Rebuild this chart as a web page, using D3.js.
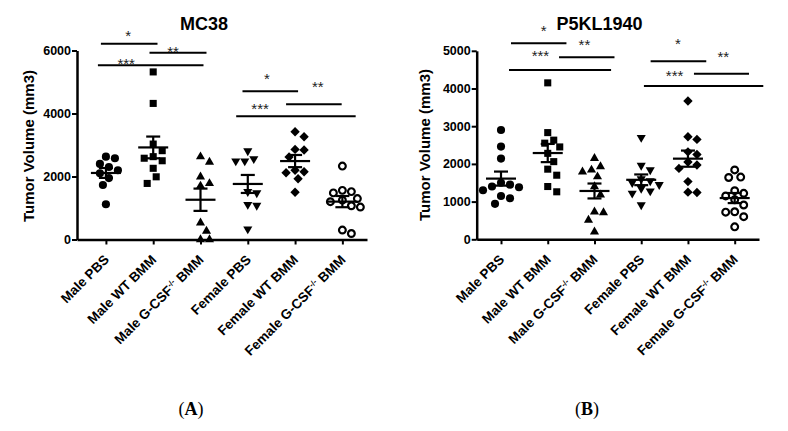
<!DOCTYPE html>
<html>
<head>
<meta charset="utf-8">
<script src="https://cdn.jsdelivr.net/npm/d3@7"></script>
<style>
  html, body { margin: 0; padding: 0; background: #fff; }
  svg { display: block; }
</style>
</head>
<body>
<svg id="chart" width="788" height="431"></svg>
<script>
// ---------------- DATA ----------------
const categories = ["Male PBS", "Male WT BMM", "Male G-CSF-/- BMM", "Female PBS", "Female WT BMM", "Female G-CSF-/- BMM"];

// Panel A: MC38 tumor volume (mm3)
const mc38MalePBS      = [2630, 2580, 2400, 2300, 2200, 2100, 1950, 1730, 1120];
const mc38MaleWT       = [5320, 4320, 3030, 2820, 2630, 2580, 2500, 2260, 1990, 1780];
const mc38MaleGCSF     = [2630, 2460, 1990, 1780, 1700, 530, 270, 0, 0];
const mc38FemalePBS    = [2810, 2560, 2490, 2490, 1520, 1480, 1110, 1080, 330];
const mc38FemaleWT     = [3420, 3260, 2860, 2840, 2620, 2200, 2150, 2120, 1930, 1500];
const mc38FemaleGCSF   = [2330, 1560, 1520, 1480, 1300, 1250, 1200, 1070, 1030, 300, 190];

// Panel B: P5KL1940 tumor volume (mm3)
const p5MalePBS        = [2900, 2460, 2140, 1500, 1450, 1400, 1380, 1300, 1150, 1090, 940];
const p5MaleWT         = [4150, 2830, 2630, 2550, 2450, 2280, 2060, 1860, 1700, 1400, 1260];
const p5MaleGCSF       = [2150, 1930, 1840, 1790, 1660, 1400, 1180, 730, 710, 510, 200];
const p5FemalePBS      = [2700, 1960, 1840, 1600, 1550, 1500, 1450, 1350, 1280, 1220, 910];
const p5FemaleWT       = [3670, 2720, 2650, 2320, 2250, 2050, 1970, 1880, 1530, 1250, 1240];
const p5FemaleGCSF     = [1840, 1650, 1640, 1290, 1220, 1150, 1050, 910, 730, 720, 600, 330];

const mc38Ticks = [0, 2000, 4000, 6000];
const p5Ticks   = [0, 1000, 2000, 3000, 4000, 5000];

// significance comparisons: [from group, to group, bracket height (mm3), label]
const mc38Sig = [
  [0, 1, 6216, "*"], [1, 2, 5930, "**"], [0, 2, 5530, "***"],
  [3, 4, 4705, "*"], [4, 5, 4292, "**"], [3, 5, 3911, "***"]
];
const p5Sig = [
  [0, 1, 5199, "*"], [1, 2, 4828, "**"], [0, 2, 4491, "***"],
  [3, 4, 4721, "*"], [4, 5, 4393, "**"], [3, 5, 4066, "***"]
];

// ---------------- LAYOUT ----------------
const shapes = ["circle", "square", "triUp", "triDown", "diamond", "openCircle"];
// bracket end overhangs (px) and label offsets from bracket mid (px)
const mc38SigLayout = [
  {l: -5, r: 4.3, dx: -1, dy: -10.7}, {l: -3.7, r: 6, dx: -5, dy: -3.7}, {l: -8, r: 3, dx: -24.5, dy: -4.3},
  {l: -5.3, r: 3, dx: -3.3, dy: -15.3}, {l: -9, r: -0.7, dx: 4, dy: -20.3}, {l: -11.6, r: 13.3, dx: -35.8, dy: -10.3}
];
const p5SigLayout = [
  {l: 10, r: 18.7, dx: 5, dy: -15.3}, {l: 11.3, r: 20, dx: -2.3, dy: -15.6}, {l: 8, r: 16.6, dx: -19.6, dy: -17.3},
  {l: 9.4, r: 18.3, dx: -0.5, dy: -20.6}, {l: 6, r: 14.3, dx: 1.8, dy: -19.7}, {l: 2.7, r: 28.6, dx: -29, dy: -13.3}
];

const panels = [
  {
    title: "MC38", letter: "A",
    groups: [mc38MalePBS, mc38MaleWT, mc38MaleGCSF, mc38FemalePBS, mc38FemaleWT, mc38FemaleGCSF],
    ticks: mc38Ticks, ymax: 6000, sig: mc38Sig, sigLayout: mc38SigLayout,
    xRange: [77, 367], xPad: 0.566, xAlign: 0.54, yRange: [239.5, 50.5],
    titleX: 204, ylabX: 29, ylabY: 146, letterX: 191
  },
  {
    title: "P5KL1940", letter: "B",
    groups: [p5MalePBS, p5MaleWT, p5MaleGCSF, p5FemalePBS, p5FemaleWT, p5FemaleGCSF],
    ticks: p5Ticks, ymax: 5000, sig: p5Sig, sigLayout: p5SigLayout,
    xRange: [476.7, 759], xPad: 0.52, xAlign: 0.5, yRange: [239.3, 50.8],
    titleX: 599.5, ylabX: 425, ylabY: 145, letterX: 587
  }
];

const svg = d3.select("#chart");
const FONT = "'Liberation Sans', Arial, Helvetica, sans-serif";

function symbolPath(shape) {
  switch (shape) {
    case "circle": return d3.symbol(d3.symbolCircle, 52)();
    case "square": return d3.symbol(d3.symbolSquare, 50)();
    case "triUp": return d3.symbol(d3.symbolTriangle, 36)();
    case "triDown": return d3.symbol(d3.symbolTriangle, 36)();
    case "diamond": return d3.symbol(d3.symbolSquare, 44)();
    case "openCircle": return d3.symbol(d3.symbolCircle, 36)();
  }
}
function symbolTransform(shape, x, y) {
  if (shape === "triDown") return `translate(${x},${y}) rotate(180)`;
  if (shape === "diamond") return `translate(${x},${y}) rotate(45)`;
  return `translate(${x},${y})`;
}

// simple beeswarm: values in pixel space, returns x offsets
function swarm(pys, minDist) {
  const order = pys.map((v, i) => i).sort((a, b) => pys[a] - pys[b]);
  const placed = [];
  const offs = new Array(pys.length).fill(0);
  const step = 3;
  for (const i of order) {
    let chosen = 0;
    for (let k = 0; k < 40; k++) {
      const cand = k === 0 ? 0 : (k % 2 === 1 ? 1 : -1) * Math.ceil(k / 2) * step;
      const ok = placed.every(p => Math.hypot(p.x - cand, p.y - pys[i]) >= minDist);
      if (ok) { chosen = cand; break; }
    }
    offs[i] = chosen;
    placed.push({x: chosen, y: pys[i]});
  }
  return offs;
}

function labelWithSup(sel, text) {
  const parts = text.split("-/-");
  if (parts.length === 1) { sel.text(text); return; }
  sel.append("tspan").text(parts[0]);
  sel.append("tspan").attr("font-size", 8).attr("dy", -5).text("-/-");
  sel.append("tspan").attr("dy", 5).text(parts[1]);
}

panels.forEach(p => {
  const g = svg.append("g");
  const x = d3.scalePoint().domain(categories).range(p.xRange).padding(p.xPad).align(p.xAlign);
  const y = d3.scaleLinear().domain([0, p.ymax]).range(p.yRange);

  // title
  g.append("text").attr("x", p.titleX).attr("y", 29.5).attr("text-anchor", "middle")
    .attr("font-family", FONT).attr("font-weight", "bold").attr("font-size", 18).text(p.title);

  // y axis
  const yAx = g.append("g").attr("transform", `translate(${p.xRange[0]},0)`)
    .call(d3.axisLeft(y).tickValues(p.ticks).tickSize(5).tickSizeOuter(0).tickPadding(1).tickFormat(d3.format("d")));
  yAx.select(".domain").attr("stroke-width", 2.5);
  yAx.selectAll(".tick line").attr("stroke-width", 2);
  yAx.selectAll(".tick text").attr("font-family", FONT).attr("font-weight", "bold").attr("font-size", 12.5).attr("fill", "#000");

  // x axis
  const xAx = g.append("g").attr("transform", `translate(0,${p.yRange[0]})`)
    .call(d3.axisBottom(x).tickSize(5).tickSizeOuter(0).tickFormat(""));
  xAx.select(".domain").attr("stroke-width", 2.5);
  xAx.selectAll(".tick line").attr("stroke-width", 2);

  // x labels rotated
  categories.forEach(c => {
    const t = g.append("text")
      .attr("transform", `translate(${x(c) + 4},${p.yRange[0] + 21}) rotate(-45)`)
      .attr("text-anchor", "end")
      .attr("font-family", FONT).attr("font-weight", "bold").attr("font-size", 13.5).attr("fill", "#000");
    labelWithSup(t, c);
  });

  // y label
  g.append("text").attr("transform", `translate(${p.ylabX},${p.ylabY}) rotate(-90)`)
    .attr("text-anchor", "middle").attr("dy", "0.35em")
    .attr("font-family", FONT).attr("font-weight", "bold").attr("font-size", 15).text("Tumor Volume (mm3)");

  // points + mean/SEM
  p.groups.forEach((vals, gi) => {
    const cx = x(categories[gi]);
    const shape = shapes[gi];
    const pys = vals.map(v => y(v));
    const offs = swarm(pys, 9);
    const mean = d3.mean(vals);
    const sem = d3.deviation(vals) / Math.sqrt(vals.length);
    const pts = g.append("g");
    vals.forEach((v, i) => {
      pts.append("path").attr("d", symbolPath(shape))
        .attr("transform", symbolTransform(shape, cx + offs[i], y(v)))
        .attr("fill", shape === "openCircle" ? "#fff" : "#000")
        .attr("stroke", shape === "openCircle" ? "#000" : "none")
        .attr("stroke-width", shape === "openCircle" ? 2.2 : 0);
    });
    const eb = g.append("g").attr("stroke", "#000").attr("stroke-width", 2.2);
    eb.append("line").attr("x1", cx - 15).attr("x2", cx + 15).attr("y1", y(mean)).attr("y2", y(mean));
    eb.append("line").attr("x1", cx).attr("x2", cx).attr("y1", y(mean - sem)).attr("y2", y(mean + sem));
    eb.append("line").attr("x1", cx - 7).attr("x2", cx + 7).attr("y1", y(mean + sem)).attr("y2", y(mean + sem));
    eb.append("line").attr("x1", cx - 7).attr("x2", cx + 7).attr("y1", y(mean - sem)).attr("y2", y(mean - sem));
  });

  // significance brackets
  p.sig.forEach((s, i) => {
    const L = p.sigLayout[i];
    const x1 = x(categories[s[0]]) + L.l, x2 = x(categories[s[1]]) + L.r;
    const yy = y(s[2]);
    g.append("line").attr("x1", x1).attr("x2", x2).attr("y1", yy).attr("y2", yy)
      .attr("stroke", "#000").attr("stroke-width", 2);
    g.append("text").attr("x", (x1 + x2) / 2 + L.dx).attr("y", yy + L.dy + 8)
      .attr("text-anchor", "middle").attr("font-family", FONT).attr("font-size", 15).attr("fill", "#222")
      .text(s[3]);
  });

  // panel letter
  const lt = g.append("text").attr("x", p.letterX).attr("y", 415).attr("text-anchor", "middle")
    .attr("font-family", "'Liberation Serif', 'Times New Roman', serif").attr("font-size", 18).attr("fill", "#000");
  lt.append("tspan").text("(");
  lt.append("tspan").attr("font-weight", "bold").text(p.letter);
  lt.append("tspan").text(")");
});
</script>
</body>
</html>
